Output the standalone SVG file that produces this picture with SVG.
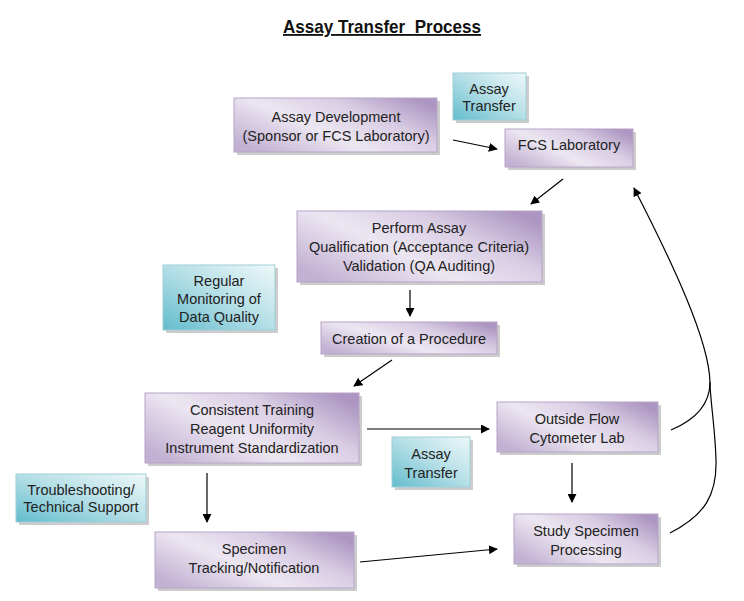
<svg xmlns="http://www.w3.org/2000/svg" width="744" height="601" viewBox="0 0 744 601">
<defs>
<linearGradient id="gp" x1="0" y1="0.8" x2="1" y2="0.2">
<stop offset="0" stop-color="#c2b1d3"/>
<stop offset="0.4" stop-color="#ece6f1"/>
<stop offset="0.7" stop-color="#d9cde4"/>
<stop offset="1" stop-color="#ad97c2"/>
</linearGradient>
<linearGradient id="gt" x1="0" y1="1" x2="1" y2="0">
<stop offset="0" stop-color="#62bccc"/>
<stop offset="0.5" stop-color="#b3dee6"/>
<stop offset="1" stop-color="#eef8f9"/>
</linearGradient>
<marker id="ah" viewBox="0 0 10 10" refX="9" refY="5" markerWidth="9" markerHeight="9" markerUnits="userSpaceOnUse" orient="auto">
<path d="M0,0 L10,5 L0,10 z" fill="#000"/>
</marker>
<style>
.p{fill:url(#gp);stroke:#b6a4c7;stroke-width:1}
.t{fill:url(#gt);stroke:#9fcfd8;stroke-width:1}
.s{fill:#9a9a9a;opacity:0.5}
text{font-family:"Liberation Sans",Arial,sans-serif;font-size:14.5px;fill:#222;text-anchor:middle}
.c{stroke:#000;stroke-width:1.2;fill:none;marker-end:url(#ah)}
.n{stroke:#000;stroke-width:1.2;fill:none}
</style>
</defs>
<rect width="744" height="601" fill="#fff"/>
<text x="382" y="33" xml:space="preserve" style="font-size:18.5px;font-weight:bold;text-decoration:underline;fill:#111;white-space:pre" textLength="198" lengthAdjust="spacingAndGlyphs">Assay Transfer  Process</text>

<g id="n-assay-transfer-top">
<rect class="s" x="456" y="76" width="73" height="47"/>
<rect class="t" x="453" y="73" width="73" height="47"/>
<text x="489" y="94">Assay</text>
<text x="489" y="111">Transfer</text>
</g>
<g id="n-assay-dev">
<rect class="s" x="237" y="101" width="203" height="54"/>
<rect class="p" x="234" y="98" width="203" height="54"/>
<text x="336" y="122">Assay Development</text>
<text x="336" y="141">(Sponsor or FCS Laboratory)</text>
</g>
<g id="n-fcs">
<rect class="s" x="508" y="132" width="128" height="38"/>
<rect class="p" x="505" y="129" width="128" height="38"/>
<text x="569" y="150">FCS Laboratory</text>
</g>
<g id="n-perform">
<rect class="s" x="300" y="214" width="245" height="71"/>
<rect class="p" x="297" y="211" width="245" height="71"/>
<text x="419" y="233">Perform Assay</text>
<text x="419" y="252">Qualification (Acceptance Criteria)</text>
<text x="419" y="271">Validation (QA Auditing)</text>
</g>
<g id="n-monitoring">
<rect class="s" x="166" y="268" width="112" height="65"/>
<rect class="t" x="163" y="265" width="112" height="65"/>
<text x="219" y="286">Regular</text>
<text x="219" y="304">Monitoring of</text>
<text x="219" y="322">Data Quality</text>
</g>
<g id="n-procedure">
<rect class="s" x="324" y="325" width="176" height="32"/>
<rect class="p" x="321" y="322" width="176" height="32"/>
<text x="409" y="344">Creation of a Procedure</text>
</g>
<g id="n-training">
<rect class="s" x="148" y="396" width="214" height="70"/>
<rect class="p" x="145" y="393" width="214" height="70"/>
<text x="252" y="415">Consistent Training</text>
<text x="252" y="434">Reagent Uniformity</text>
<text x="252" y="453">Instrument Standardization</text>
</g>
<g id="n-outside">
<rect class="s" x="500" y="405" width="161" height="50"/>
<rect class="p" x="497" y="402" width="161" height="50"/>
<text x="577" y="424">Outside Flow</text>
<text x="577" y="443">Cytometer Lab</text>
</g>
<g id="n-assay-transfer-bottom">
<rect class="s" x="395" y="440" width="78" height="50"/>
<rect class="t" x="392" y="437" width="78" height="50"/>
<text x="431" y="459">Assay</text>
<text x="431" y="478">Transfer</text>
</g>
<g id="n-troubleshooting">
<rect class="s" x="19" y="477" width="130" height="48"/>
<rect class="t" x="16" y="474" width="130" height="48"/>
<text x="81" y="495">Troubleshooting/</text>
<text x="81" y="512">Technical Support</text>
</g>
<g id="n-tracking">
<rect class="s" x="158" y="535" width="199" height="56"/>
<rect class="p" x="155" y="532" width="199" height="56"/>
<text x="254" y="554">Specimen</text>
<text x="254" y="573">Tracking/Notification</text>
</g>
<g id="n-study">
<rect class="s" x="517" y="517" width="144" height="50"/>
<rect class="p" x="514" y="514" width="144" height="50"/>
<text x="586" y="536">Study Specimen</text>
<text x="586" y="555">Processing</text>
</g>

<g id="connectors">
<path class="c" d="M453,140 L497,149"/>
<path class="c" d="M563,179 L531,204"/>
<path class="c" d="M410,290 L410,316"/>
<path class="c" d="M392,360 L354,386"/>
<path class="c" d="M367,429 L489,429"/>
<path class="c" d="M207,473 L207,522"/>
<path class="c" d="M572,463 L572,502"/>
<path class="c" d="M360,562 L497,549"/>
<path class="c" d="M671,430 C695,420 710,405 710,382 C709,340 672,262 634,188"/>
<path class="n" d="M670,533 C705,515 717,495 716,460 C715,425 710,400 710,382"/>
</g>
</svg>
